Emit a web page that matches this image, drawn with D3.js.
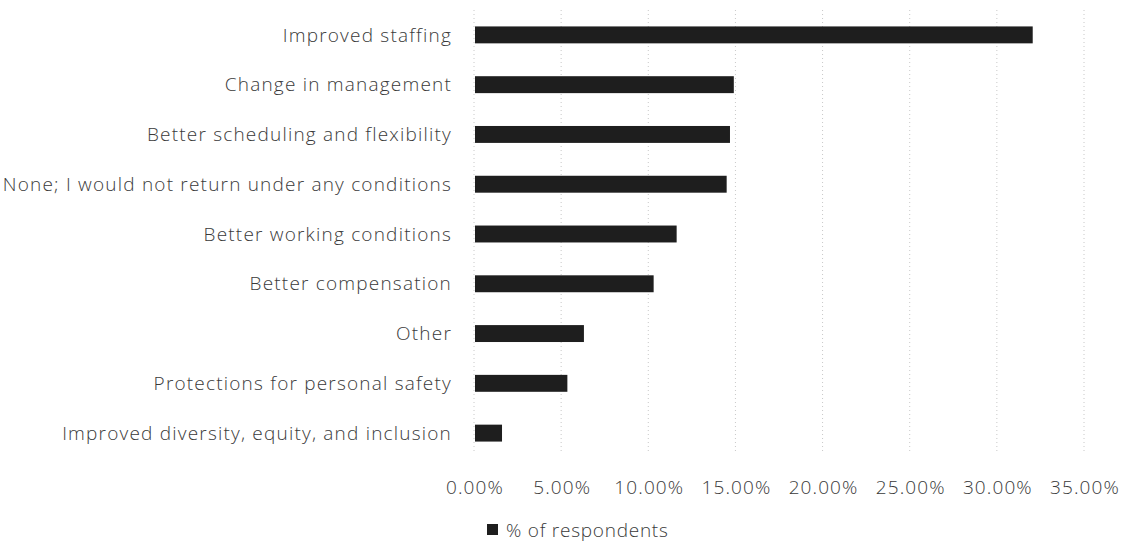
<!DOCTYPE html>
<html>
<head>
<meta charset="utf-8">
<title>% of respondents</title>
<script src="https://cdn.jsdelivr.net/npm/d3@7"></script>
<style>
  body { margin: 0; background: #fff; }
  text { font-family: "Open Sans", sans-serif; font-weight: 300; fill: #3a3a3a; font-size: 19px; }
</style>
</head>
<body>
<div id="chart"></div>
<script>
// categories, top to bottom
var categories = [
  "Improved staffing",
  "Change in management",
  "Better scheduling and flexibility",
  "None; I would not return under any conditions",
  "Better working conditions",
  "Better compensation",
  "Other",
  "Protections for personal safety",
  "Improved diversity, equity, and inclusion"
];
// % of respondents
var values = [32.0, 14.85, 14.63, 14.44, 11.57, 10.25, 6.25, 5.30, 1.55];
var xTicks = [0, 5, 10, 15, 20, 25, 30, 35];
var seriesName = "% of respondents";

var W = 1126, H = 550;
var margin = {top: 10, right: 42, bottom: 92, left: 474};

var svg = d3.select("#chart").append("svg")
    .attr("width", W)
    .attr("height", H);

var x = d3.scaleLinear()
    .domain([0, 35])
    .range([margin.left, W - margin.right]);

var y = d3.scaleBand()
    .domain(categories)
    .range([margin.top, H - margin.bottom])
    .paddingInner(0.66)
    .paddingOuter(0.33);

// gridlines
svg.append("g")
  .selectAll("line")
  .data(xTicks)
  .enter().append("line")
    .attr("x1", function(d) { return x(d); })
    .attr("x2", function(d) { return x(d); })
    .attr("y1", margin.top)
    .attr("y2", H - margin.bottom - 6)
    .attr("stroke", "#c8c8c8")
    .attr("stroke-width", 1)
    .attr("stroke-dasharray", "1,3");

// bars
svg.append("g")
  .selectAll("rect")
  .data(values)
  .enter().append("rect")
    .attr("x", x(0) + 1)
    .attr("y", function(d, i) { return y(categories[i]); })
    .attr("width", function(d) { return x(d) - x(0); })
    .attr("height", y.bandwidth())
    .attr("fill", "#1e1e1e");

// category labels
svg.append("g")
  .selectAll("text")
  .data(categories)
  .enter().append("text")
    .attr("x", margin.left - 22)
    .attr("y", function(d) { return y(d) + y.bandwidth() / 2; })
    .attr("dy", "0.35em")
    .attr("text-anchor", "end")
    .style("letter-spacing", "1.2px")
    .text(function(d) { return d; });

// x tick labels
svg.append("g")
  .selectAll("text")
  .data(xTicks)
  .enter().append("text")
    .attr("x", function(d) { return x(d) + 1; })
    .attr("y", 487)
    .attr("dy", "0.35em")
    .attr("text-anchor", "middle")
    .style("letter-spacing", "1.1px")
    .text(function(d) { return d3.format(".2f")(d) + "%"; });

// legend
var legend = svg.append("g").attr("transform", "translate(487,530)");
legend.append("rect")
    .attr("x", 0).attr("y", -6)
    .attr("width", 11).attr("height", 11)
    .attr("fill", "#1e1e1e");
legend.append("text")
    .attr("x", 19)
    .attr("dy", "0.35em")
    .style("letter-spacing", "0.75px")
    .text(seriesName);
</script>
</body>
</html>
